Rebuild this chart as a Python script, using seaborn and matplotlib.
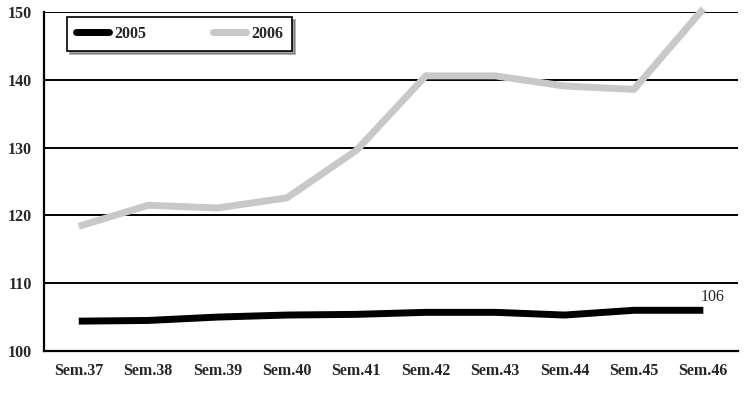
import pandas as pd
import matplotlib.pyplot as plt
import seaborn as sns

semaines = ["Sem.37", "Sem.38", "Sem.39", "Sem.40", "Sem.41",
            "Sem.42", "Sem.43", "Sem.44", "Sem.45", "Sem.46"]
valeurs_2005 = [104.4, 104.5, 105.0, 105.3, 105.4, 105.7, 105.7, 105.3, 106.0, 106.0]
valeurs_2006 = [118.4, 121.5, 121.1, 122.6, 129.6, 140.6, 140.6, 139.1, 138.6, 150.5]
annees = ["2005", "2006"]

df = pd.DataFrame({
    "Semaine": semaines * 2,
    "Indice": valeurs_2005 + valeurs_2006,
    "Annee": [annees[0]] * len(semaines) + [annees[1]] * len(semaines),
})

sns.set_style("white")
plt.rcParams["font.family"] = ["Liberation Serif", "DejaVu Serif"]

fig = plt.figure(figsize=(7.47, 3.93), dpi=100)
ax = fig.add_axes([0.059, 0.107, 0.929, 0.862])

# grille horizontale derriere les courbes
for y in [110, 120, 130, 140, 150]:
    ax.axhline(y, color="black", lw=1.4, zorder=0)

sns.lineplot(data=df, x="Semaine", y="Indice", hue="Annee",
             palette={"2005": "black", "2006": "#c8c8c8"},
             linewidth=5, ax=ax, sort=False, legend=False)
for line in ax.lines[-2:]:
    line.set_solid_capstyle("butt")
    line.set_clip_on(False)

ax.set_xlim(-0.5, 9.5)
ax.set_ylim(100, 150)
ax.set_yticks([100, 110, 120, 130, 140, 150])
ax.set_xticks(range(len(semaines)))
ax.set_xticklabels(semaines)
ax.set_xticks([i + 0.5 for i in range(len(semaines))], minor=True)
ax.tick_params(axis="x", which="major", length=0, pad=9, labelsize=11.5)
ax.tick_params(axis="x", which="minor", direction="in", length=7, width=1.4, color="black")
ax.tick_params(axis="y", length=0, pad=9, labelsize=11.5)
for lab in ax.get_xticklabels() + ax.get_yticklabels():
    lab.set_fontweight("bold")
ax.set_xlabel("")
ax.set_ylabel("")

for side in ["top", "right"]:
    ax.spines[side].set_visible(False)
for side in ["left", "bottom"]:
    ax.spines[side].set_color("black")
    ax.spines[side].set_linewidth(1.6)

ax.text(9.13, 107.9, "106", fontsize=11.5, ha="center", va="center")

handles = [plt.Line2D([], [], color="black", lw=5),
           plt.Line2D([], [], color="#c8c8c8", lw=5)]
leg = ax.legend(handles, annees, loc="upper left",
                bbox_to_anchor=(0.033, 0.87, 0.324, 0.115), mode="expand",
                borderaxespad=0, ncol=2, handlelength=2.1,
                handletextpad=0.3, frameon=True, fancybox=False, shadow=True,
                prop={"weight": "bold", "size": 11.5}, borderpad=0.55)
leg.get_frame().set_edgecolor("black")
leg.get_frame().set_linewidth(1.2)

fig.savefig("out.png", dpi=100)
